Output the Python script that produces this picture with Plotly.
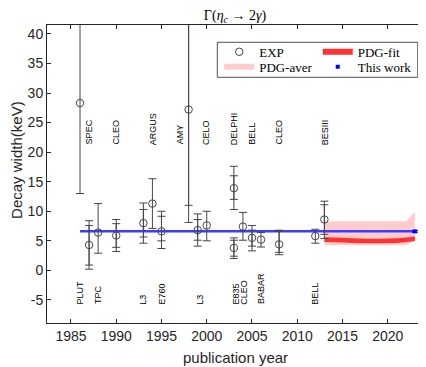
import plotly.graph_objects as go

# ---------------- data ----------------
exp_names = ["SPEC", "PLUT", "TPC", "CLEO", "L3", "ARGUS", "E760", "AMY", "L3",
             "CELO", "DELPHI", "E835", "CLEO", "BELL", "BABAR", "CLEO", "BELL", "BESIII"]
exp_years = [1986, 1987, 1988, 1990, 1993, 1994, 1995, 1998, 1999,
             2000, 2003, 2003, 2004, 2005, 2006, 2008, 2012, 2013]
exp_vals = [28.3, 4.3, 6.4, 5.9, 8.0, 11.3, 6.6, 27.2, 6.8,
            7.6, 13.9, 3.8, 7.4, 5.5, 5.2, 4.4, 5.8, 8.6]
exp_err_plus = [15.0, 4.1, 4.9, 2.7, 3.4, 4.2, 3.4, 19.1, 2.75,
                2.4, 3.7, 1.7, 2.4, 2.1, 1.2, 2.4, 1.15, 3.1]
exp_err_minus = [15.3, 4.1, 3.5, 2.7, 3.4, 4.2, 2.9, 19.1, 2.7,
                 2.6, 3.6, 1.8, 2.3, 2.2, 1.25, 1.75, 1.2, 3.2]

# inner (statistical) error bars, only for the measurements that show two caps
inner_years = [1987, 1990, 1993, 1995, 1998, 1999, 2003, 2003, 2005, 2008, 2013]
inner_vals = [4.3, 5.9, 8.0, 6.6, 27.2, 6.8, 13.9, 3.8, 5.5, 4.4, 8.6]
inner_err_plus = [3.3, 2.0, 2.3, 2.55, 16.2, 1.8, 2.1, 1.3, 1.3, 2.2, 2.5]
inner_err_minus = [3.4, 2.0, 2.35, 1.6, 16.2, 1.7, 1.9, 1.4, 1.4, 1.35, 2.5]

# PDG fit band and PDG average band
pdg_years = [2013, 2014, 2015, 2016, 2017, 2018, 2019, 2020, 2021, 2022, 2023]
pdg_fit_center = [5.2, 5.15, 5.1, 5.05, 5.0, 4.97, 4.97, 5.0, 5.05, 5.15, 5.35]
pdg_fit_half = [0.4, 0.4, 0.4, 0.4, 0.4, 0.4, 0.4, 0.4, 0.4, 0.4, 0.4]
pdg_aver_upper = [8.3, 8.3, 8.3, 8.3, 8.3, 8.3, 8.3, 8.3, 8.3, 8.3, 9.9]
pdg_aver_lower = [4.25, 4.25, 4.25, 4.25, 4.25, 4.25, 4.25, 4.25, 4.25, 4.25, 5.0]

# this work
this_work_year = [2023]
this_work_val = [6.6]
this_work_err = [0.15]
this_work_line_x = [1986, 2023]
this_work_line_y = [6.6, 6.6]

# experiment labels
upper_labels = ["SPEC", "CLEO", "ARGUS", "AMY", "CELO", "DELPHI", "BELL", "CLEO", "BESIII"]
upper_label_x = [1987, 1990, 1994, 1997, 2000, 2003, 2005, 2008, 2013]
lower_labels = ["PLUT", "TPC", "L3", "E760", "L3", "E835", "CLEO", "BABAR", "BELL"]
lower_label_x = [1986, 1988, 1993, 1995, 1999.3, 2003.2, 2004.1, 2006, 2012]
upper_label_y = 20.9
lower_label_y = -6.1

x_tickvals = [1985, 1990, 1995, 2000, 2005, 2010, 2015, 2020]
y_tickvals = [-5, 0, 5, 10, 15, 20, 25, 30, 35, 40]
y_ticktext = ["-5", "0", "5", "10", "15", "20", "25", "30", "35", "40"]

# ---------------- figure ----------------
fig = go.Figure()

fig.add_trace(go.Scatter(
    x=pdg_years + pdg_years[::-1],
    y=pdg_aver_upper + pdg_aver_lower[::-1],
    fill="toself", fillcolor="rgb(255,204,204)", line=dict(width=0),
    mode="none", name="PDG-aver", legend="legend3", hoverinfo="skip"))

fit_up = [c + h for c, h in zip(pdg_fit_center, pdg_fit_half)]
fit_lo = [c - h for c, h in zip(pdg_fit_center, pdg_fit_half)]
fig.add_trace(go.Scatter(
    x=pdg_years + pdg_years[::-1],
    y=fit_up + fit_lo[::-1],
    fill="toself", fillcolor="rgb(255,51,51)", line=dict(width=0),
    mode="none", name="PDG-fit", legend="legend2", hoverinfo="skip"))

fig.add_trace(go.Scatter(
    x=this_work_line_x, y=this_work_line_y, mode="lines",
    line=dict(color="rgb(60,60,255)", width=2.5), showlegend=False))

err_col = "rgb(70,70,70)"
fig.add_trace(go.Scatter(
    x=inner_years, y=inner_vals, mode="markers",
    marker=dict(size=1, color="rgba(0,0,0,0)"),
    error_y=dict(type="data", symmetric=False, array=inner_err_plus,
                 arrayminus=inner_err_minus, color=err_col, thickness=1, width=4),
    showlegend=False))

fig.add_trace(go.Scatter(
    x=exp_years, y=exp_vals, mode="markers", name="EXP", text=exp_names,
    marker=dict(symbol="circle-open", size=7.5, color=err_col, line=dict(width=1)),
    error_y=dict(type="data", symmetric=False, array=exp_err_plus,
                 arrayminus=exp_err_minus, color=err_col, thickness=1, width=4),
    legend="legend"))

fig.add_trace(go.Scatter(
    x=this_work_year, y=this_work_val, mode="markers", name="This work",
    marker=dict(symbol="square", size=4, color="rgb(0,0,255)"),
    error_y=dict(type="data", array=this_work_err, color="rgb(0,0,255)", thickness=1, width=3),
    legend="legend4"))

for t, xv in zip(upper_labels, upper_label_x):
    fig.add_annotation(x=xv, y=upper_label_y, text=t, textangle=-90, showarrow=False,
                       xanchor="center", yanchor="bottom",
                       font=dict(family="Liberation Sans, Arial", size=9, color="black"))
for t, xv in zip(lower_labels, lower_label_x):
    fig.add_annotation(x=xv, y=lower_label_y, text=t, textangle=-90, showarrow=False,
                       xanchor="center", yanchor="bottom",
                       font=dict(family="Liberation Sans, Arial", size=9, color="black"))

axis_col = "rgb(38,38,38)"
title_font = dict(family="Liberation Sans, Arial", size=15, color="rgb(38,38,38)")
# axis titles
fig.add_annotation(x=0.5, y=-0.117, xref="paper", yref="paper", text="publication year",
                   showarrow=False, xanchor="center", yanchor="middle", font=title_font)
fig.add_annotation(x=-0.08, y=0.547, xref="paper", yref="paper", text="Decay width(keV)",
                   textangle=-90, showarrow=False, xanchor="center", yanchor="middle", font=title_font)

# legend frame
fig.add_shape(type="rect", xref="paper", yref="paper",
              x0=0.453, x1=0.986, y0=0.8245, y1=0.942,
              line=dict(color="rgb(38,38,38)", width=0.8), fillcolor="rgba(0,0,0,0)", layer="above")

legend_font = dict(family="Liberation Serif, Times New Roman, serif", size=13, color="black")
def leg(x, y):
    return dict(x=x, y=y, xanchor="left", yanchor="middle", bgcolor="rgba(0,0,0,0)",
                borderwidth=0, font=legend_font, itemwidth=30, tracegroupgap=0)

fig.update_layout(
    width=418, height=359,
    margin=dict(l=39, r=3, t=17, b=44),
    paper_bgcolor="white", plot_bgcolor="white",
    font=dict(family="Liberation Sans, Arial", color="rgb(38,38,38)"),
    title=dict(text="Γ(<i>η</i><sub><i>c</i></sub> → 2<i>γ</i>)", x=0.5, xref="paper",
               xanchor="center", y=1 - 7.5 / 359, yref="container", yanchor="middle",
               font=dict(family="Liberation Serif, Times New Roman, serif", size=14, color="black")),
    xaxis=dict(range=[1982.35, 2023.9], tickvals=x_tickvals, ticks="inside", ticklen=4,
               mirror="ticks", showline=True, linecolor=axis_col, linewidth=1, tickcolor=axis_col,
               showgrid=False, zeroline=False, automargin=False,
               tickfont=dict(size=14, color="rgb(38,38,38)")),
    yaxis=dict(range=[-8.9, 41.5], tickvals=y_tickvals, ticktext=y_ticktext, ticks="inside", ticklen=4,
               mirror="ticks", showline=True, linecolor=axis_col, linewidth=1, tickcolor=axis_col,
               showgrid=False, zeroline=False, automargin=False,
               tickfont=dict(size=14, color="rgb(38,38,38)")),
    legend=leg(0.458, 0.910),
    legend2=leg(0.720, 0.910),
    legend3=leg(0.458, 0.860),
    legend4=leg(0.720, 0.860),
    showlegend=True,
)

fig.write_html("out.html")
